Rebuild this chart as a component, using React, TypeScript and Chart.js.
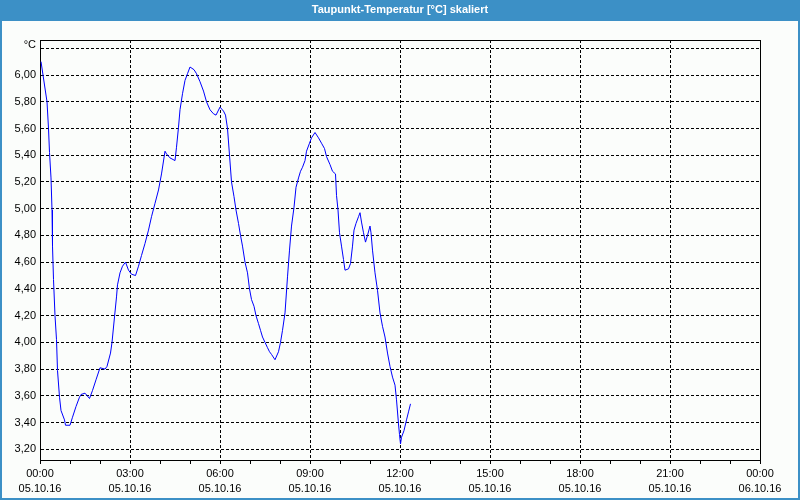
import React, { useEffect, useRef } from "react";
import { Chart, registerables } from "chart.js";

Chart.register(...registerables);

const chartTitle = "Taupunkt-Temperatur [°C] skaliert";
const unitLabel = "°C";

// minutes after 05.10.16 00:00
const minutes = [
  2, 6, 14, 17, 19, 22, 24, 25, 27, 30, 33, 35, 39, 42, 49, 51, 60, 65, 72, 79,
  82, 90, 99, 105, 112, 120, 130, 134, 141, 144, 149, 153, 155, 160, 165, 171, 177, 183, 191, 197,
  203, 210, 217, 223, 230, 237, 243, 250, 253, 260, 270, 273, 277, 280, 285, 290, 295, 300, 308, 313,
  320, 327, 333, 340, 347, 352, 360, 367, 371, 375, 379, 383, 388, 392, 397, 401, 405, 410, 415, 419,
  423, 428, 432, 437, 441, 445, 450, 455, 459, 463, 470, 477, 481, 485, 490, 495, 499, 503, 508, 512,
  517, 521, 525, 530, 533, 539, 543, 550, 557, 563, 569, 573, 580, 585, 591, 593, 596, 599, 603, 607,
  610, 617, 621, 625, 628, 632, 637, 640, 643, 647, 651, 655, 660, 662, 665, 670, 675, 680, 685, 690,
  695, 700, 705, 710, 713, 717, 719, 721, 723, 728, 733, 737, 741,
];

const dewPoint = [
  6.10, 6.00, 5.80, 5.60, 5.42, 5.23, 4.99, 4.72, 4.47, 4.20, 4.02, 3.79, 3.59, 3.49, 3.42, 3.38, 3.38, 3.44, 3.52, 3.59,
  3.61, 3.62, 3.58, 3.64, 3.72, 3.81, 3.80, 3.82, 3.92, 4.00, 4.19, 4.34, 4.43, 4.52, 4.57, 4.60, 4.54, 4.51, 4.50, 4.57,
  4.65, 4.74, 4.84, 4.94, 5.04, 5.14, 5.26, 5.43, 5.41, 5.38, 5.36, 5.46, 5.61, 5.74, 5.86, 5.96, 6.01, 6.06, 6.04, 6.01,
  5.95, 5.88, 5.80, 5.74, 5.71, 5.70, 5.76, 5.73, 5.70, 5.60, 5.40, 5.20, 5.09, 4.99, 4.89, 4.80, 4.72, 4.60, 4.52, 4.40,
  4.32, 4.27, 4.20, 4.14, 4.09, 4.04, 4.00, 3.96, 3.93, 3.91, 3.87, 3.93, 4.00, 4.09, 4.22, 4.49, 4.69, 4.87, 5.01, 5.16,
  5.23, 5.28, 5.31, 5.36, 5.43, 5.49, 5.53, 5.57, 5.53, 5.49, 5.45, 5.39, 5.33, 5.28, 5.26, 5.10, 4.99, 4.82, 4.72, 4.62,
  4.54, 4.55, 4.59, 4.72, 4.84, 4.89, 4.94, 4.97, 4.90, 4.82, 4.75, 4.80, 4.87, 4.82, 4.69, 4.52, 4.39, 4.22, 4.12, 4.04,
  3.92, 3.82, 3.74, 3.68, 3.57, 3.39, 3.31, 3.24, 3.29, 3.34, 3.42, 3.48, 3.54,
];

const yTickValues = [3.2, 3.4, 3.6, 3.8, 4.0, 4.2, 4.4, 4.6, 4.8, 5.0, 5.2, 5.4, 5.6, 5.8, 6.0, 6.2];
const yMin = 3.12;
const yMax = 6.262;

const xTickMinutes = [
  0, 60, 120, 180, 240, 300, 360, 420, 480, 540, 600, 660, 720,
  780, 840, 900, 960, 1020, 1080, 1140, 1200, 1260, 1320, 1380, 1440,
];
const majorMinutes = [0, 180, 360, 540, 720, 900, 1080, 1260, 1440];
const majorTimes = ["00:00", "03:00", "06:00", "09:00", "12:00", "15:00", "18:00", "21:00", "00:00"];
const majorDates = ["05.10.16", "05.10.16", "05.10.16", "05.10.16", "05.10.16", "05.10.16", "05.10.16", "05.10.16", "06.10.16"];

const FONT = "'Liberation Sans Narrow', 'Liberation Sans', Arial, sans-serif";
const BLUE = "#3c90c6";
const BG = "#fbfdfb";

const framePlugin = {
  id: "frame",
  beforeDraw(chart: any) {
    const ctx = chart.ctx;
    ctx.save();
    ctx.fillStyle = BG;
    ctx.fillRect(0, 0, chart.width, chart.height);
    ctx.restore();
  },
  afterDraw(chart: any) {
    const ctx = chart.ctx;
    const a = chart.chartArea;
    const w = chart.width;
    const h = chart.height;
    ctx.save();
    // title bar
    ctx.fillStyle = BLUE;
    ctx.fillRect(0, 0, w, 21);
    ctx.fillRect(0, 0, 2, h);
    ctx.fillRect(w - 2, 0, 2, h);
    ctx.fillRect(0, h - 2, w, 2);
    ctx.fillStyle = "#ffffff";
    ctx.font = "bold 11px " + FONT;
    ctx.textAlign = "center";
    ctx.textBaseline = "middle";
    ctx.fillText(chartTitle, w / 2, 10);
    // top & right plot border
    ctx.strokeStyle = "#000";
    ctx.lineWidth = 1;
    ctx.beginPath();
    ctx.moveTo(Math.round(a.left) + 0.5, Math.round(a.top) + 0.5);
    ctx.lineTo(Math.round(a.right) + 0.5, Math.round(a.top) + 0.5);
    ctx.lineTo(Math.round(a.right) + 0.5, Math.round(a.bottom) + 0.5);
    ctx.stroke();
    // unit label
    ctx.fillStyle = "#000";
    ctx.font = "11px " + FONT;
    ctx.textAlign = "right";
    ctx.textBaseline = "middle";
    const yScale = chart.scales.y;
    ctx.fillText(unitLabel, a.left - 4, yScale.getPixelForValue(6.2) - 3);
    ctx.restore();
  },
};

export default function App() {
  const ref = useRef<HTMLCanvasElement | null>(null);

  useEffect(() => {
    document.body.style.margin = "0";
    const canvas = ref.current;
    if (!canvas) return;
    const chart = new Chart(canvas, {
      type: "line",
      data: {
        datasets: [
          {
            data: minutes.map((m, i) => ({ x: m, y: dewPoint[i] })),
            borderColor: "#0000ff",
            borderWidth: 1,
            pointRadius: 0,
            tension: 0,
            fill: false,
          },
        ],
      },
      options: {
        responsive: false,
        animation: false,
        events: [],
        layout: { padding: { top: 40, right: 40, left: 0, bottom: 0 } },
        plugins: {
          legend: { display: false },
          tooltip: { enabled: false },
          title: { display: false },
        },
        scales: {
          x: {
            type: "linear",
            min: 0,
            max: 1440,
            afterBuildTicks: (s: any) => {
              s.ticks = xTickMinutes.map((v) => ({ value: v }));
            },
            afterFit: (s: any) => {
              s.height = 40;
            },
            ticks: {
              autoSkip: false,
              maxRotation: 0,
              minRotation: 0,
              padding: 2,
              color: "#000",
              font: { family: FONT, size: 11, lineHeight: 1.4 },
              callback: (v: any) => {
                const i = majorMinutes.indexOf(Number(v));
                return i >= 0 ? [majorTimes[i], majorDates[i]] : "";
              },
            },
            grid: {
              color: (c: any) =>
                c.tick && majorMinutes.indexOf(c.tick.value) >= 0 ? "#000" : "rgba(0,0,0,0)",
              tickColor: "#000",
              tickLength: 4,
              lineWidth: 1,
            },
            border: { color: "#000", width: 1, dash: [3, 2] },
          },
          y: {
            type: "linear",
            min: yMin,
            max: yMax,
            afterBuildTicks: (s: any) => {
              s.ticks = yTickValues.map((v) => ({ value: v }));
            },
            afterFit: (s: any) => {
              s.width = 40;
            },
            ticks: {
              padding: 4,
              color: "#000",
              font: { family: FONT, size: 11 },
              callback: (v: any) => (Math.abs(Number(v) - 6.2) < 1e-6 ? "" : Number(v).toFixed(2).replace(".", ",")),
            },
            grid: {
              color: "#000",
              drawTicks: false,
              lineWidth: 1,
            },
            border: { color: "#000", width: 1, dash: [3, 2] },
          },
        },
      },
      plugins: [framePlugin],
    } as any);
    return () => chart.destroy();
  }, []);

  return (
    <div style={{ position: "fixed", left: 0, top: 0, width: 800, height: 500 }}>
      <canvas ref={ref} width={800} height={500} style={{ display: "block" }} />
    </div>
  );
}
